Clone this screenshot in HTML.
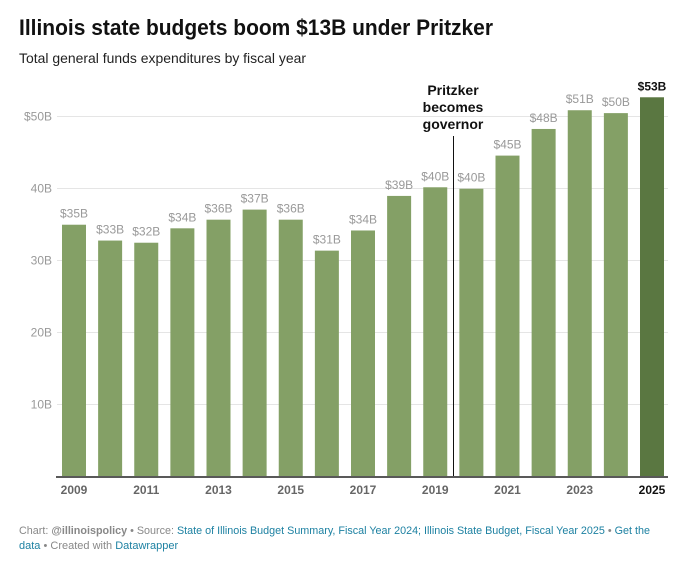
<!DOCTYPE html>
<html><head><meta charset="utf-8"><style>
html,body{margin:0;padding:0;background:#fff;}
svg{display:block;font-family:"Liberation Sans",sans-serif;}
</style></head><body>
<svg id="chart" width="691" height="564" viewBox="0 0 691 564" xmlns="http://www.w3.org/2000/svg">
<text x="19" y="35" font-size="22" font-weight="bold" fill="#111" textLength="474" lengthAdjust="spacingAndGlyphs">Illinois state budgets boom $13B under Pritzker</text>
<text x="19" y="63" font-size="14" fill="#222" textLength="287" lengthAdjust="spacingAndGlyphs">Total general funds expenditures by fiscal year</text>
<g id="grid"></g>
<g id="bars"></g>
<g id="labels"></g>
<g id="xaxis"></g>
<line x1="453.5" y1="136" x2="453.5" y2="476" stroke="#111" stroke-width="1"/>
<g font-size="14" font-weight="bold" fill="#111" text-anchor="middle">
<text x="453" y="95">Pritzker</text>
<text x="453" y="112">becomes</text>
<text x="453" y="129">governor</text>
</g>
<text x="19" y="534" font-size="11" fill="#888" textLength="631" lengthAdjust="spacingAndGlyphs">Chart: <tspan font-weight="bold">@illinoispolicy</tspan> • Source: <tspan fill="#1d81a2">State of Illinois Budget Summary, Fiscal Year 2024; Illinois State Budget, Fiscal Year 2025</tspan> • <tspan fill="#1d81a2">Get the</tspan></text>
<text x="19" y="549" font-size="11" fill="#888"><tspan fill="#1d81a2">data</tspan> • Created with <tspan fill="#1d81a2">Datawrapper</tspan></text>
</svg>
<script>
const years = [2009,2010,2011,2012,2013,2014,2015,2016,2017,2018,2019,2020,2021,2022,2023,2024,2025];
const values = [34.9,32.7,32.4,34.4,35.6,37.0,35.6,31.3,34.1,38.9,40.1,39.9,44.5,48.2,50.8,50.4,52.6];
const valueLabels = ["$35B","$33B","$32B","$34B","$36B","$37B","$36B","$31B","$34B","$39B","$40B","$40B","$45B","$48B","$51B","$50B","$53B"];
const yTicks = [10,20,30,40,50];
const yTickLabels = ["10B","20B","30B","40B","$50B"];
const xTickYears = [2009,2011,2013,2015,2017,2019,2021,2023,2025];

const NS="http://www.w3.org/2000/svg";
const y0=476, pxPer=7.2, x0=62, step=36.125, bw=24;
const yScale=v=>y0-v*pxPer;
const xScale=i=>x0+i*step;
function mk(tag,attrs,parent){const e=document.createElementNS(NS,tag);for(const k in attrs)e.setAttribute(k,attrs[k]);parent.appendChild(e);return e;}
const grid=document.getElementById('grid'),bars=document.getElementById('bars'),labels=document.getElementById('labels'),xaxis=document.getElementById('xaxis');
yTicks.forEach((t,i)=>{
  const y=Math.round(yScale(t))+0.5;
  const l=mk('line',{x1:57,x2:668,y1:y,y2:y,stroke:'#e5e5e5','stroke-width':1},grid);
  
  
  const tx=mk('text',{x:52,y:y+4,'font-size':12,fill:'#999','text-anchor':'end'},grid);
  tx.textContent=yTickLabels[i];
  
  
});
years.forEach((yr,i)=>{
  const last=i===years.length-1;
  const top=yScale(values[i]);
  const r=mk('rect',{x:xScale(i),y:top,width:bw,height:y0-top,fill:last?'#5a7741':'#84a066'},bars);
  
  
  const t=mk('text',{x:xScale(i)+bw/2,y:top-7,'font-size':12,'text-anchor':'middle',fill:last?'#111':'#999','font-weight':last?'bold':'normal'},labels);
  t.textContent=valueLabels[i];
  
  
  if(xTickYears.includes(yr)){
    const xt=mk('text',{x:xScale(i)+bw/2,y:494,'font-size':12,'text-anchor':'middle',fill:last?'#111':'#666','font-weight':'bold'},xaxis);
    xt.textContent=yr;
    
    
  }
});
const base=mk('line',{x1:56,x2:668,y1:477,y2:477,stroke:'#222','stroke-width':1.5},xaxis);


</script>
</body></html>
